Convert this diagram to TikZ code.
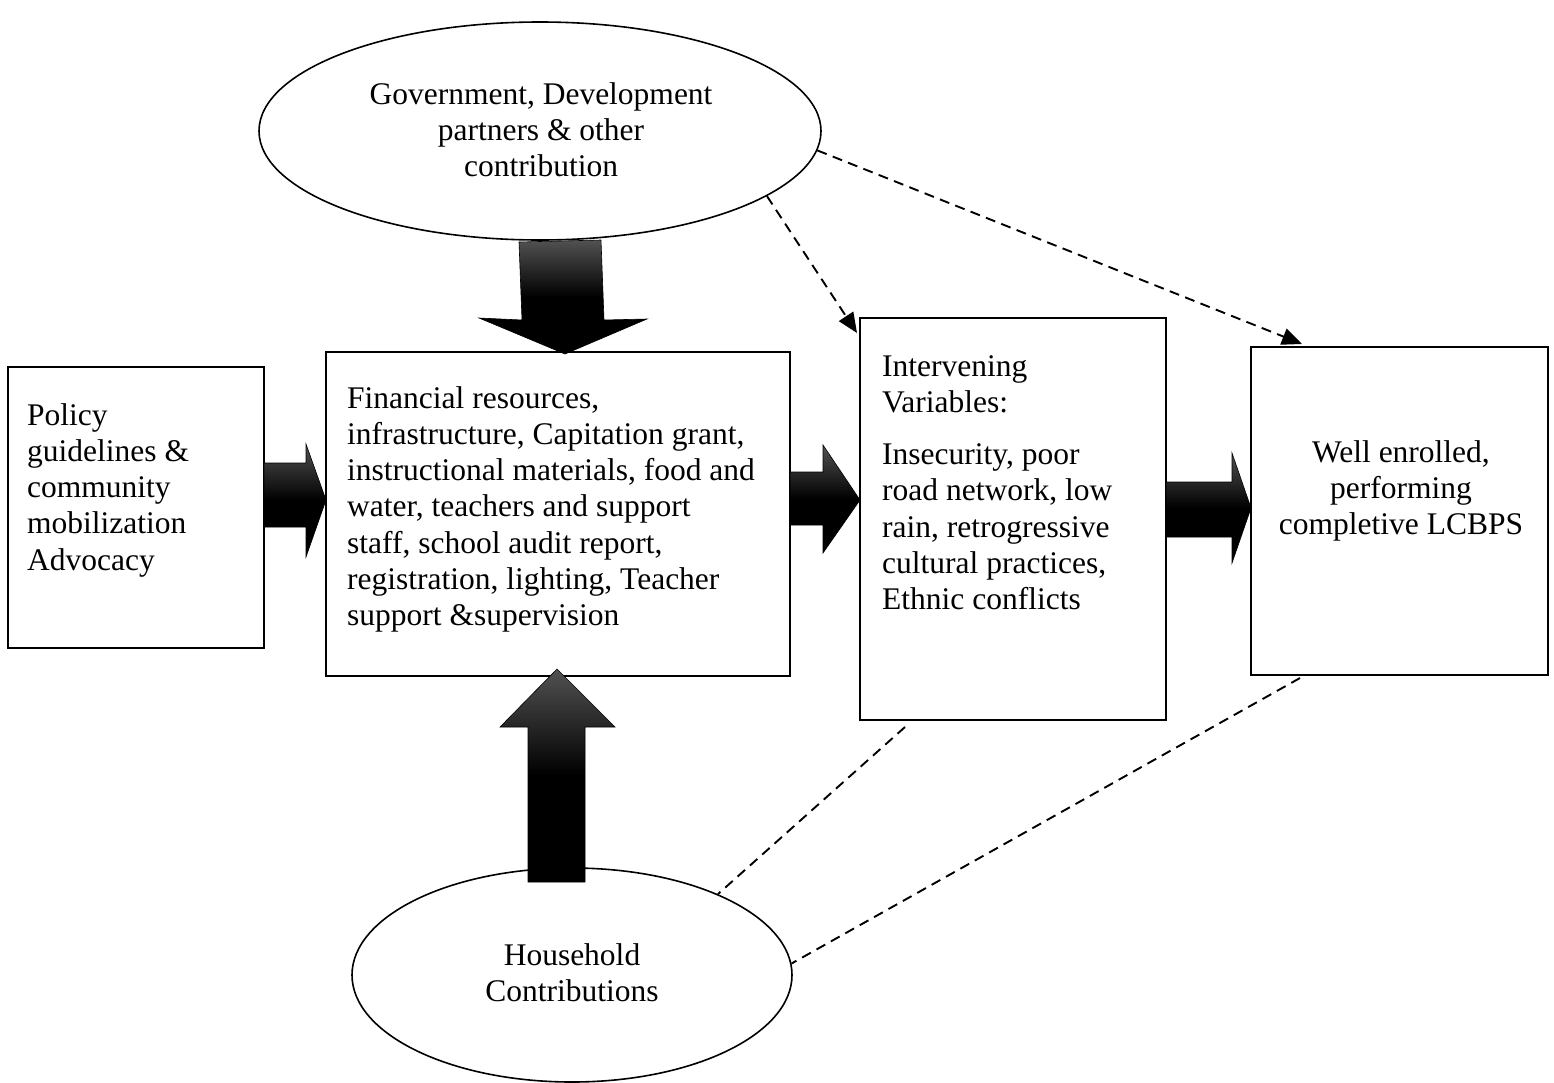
\documentclass[tikz,border=0pt]{standalone}
\usepackage{fontspec}
\setmainfont{Liberation Serif}
\usetikzlibrary{shapes.geometric,arrows.meta}
\tikzset{
  txt/.style={inner sep=0pt, font=\fontsize{31.5}{36.3}\selectfont},
  boxnode/.style={draw, line width=1.6pt, rectangle, inner sep=0pt},
  ovalnode/.style={draw, line width=1.6pt, ellipse, inner sep=0pt},
  dashlink/.style={line width=1.9pt, dash pattern=on 10pt off 6.5pt},
  dasharrow/.style={dashlink, -{Triangle[length=20pt,width=17pt]}},
  blockarrow/.style={draw=black, line width=0.6pt, top color=black!68, bottom color=black, middle color=black},
}
\begin{document}
\begin{tikzpicture}[x=1pt,y=-1pt]
\useasboundingbox (0,0) rectangle (1554,1082);
% shapes
\node[ovalnode, minimum width=562pt, minimum height=218pt] (gov) at (540,131) {};
\node[ovalnode, minimum width=440pt, minimum height=214pt] (house) at (572,975) {};
\node[boxnode, minimum width=256pt, minimum height=281pt] (policy) at (136,507.5) {};
\node[boxnode, minimum width=464pt, minimum height=324pt] (res) at (558,514) {};
\node[boxnode, minimum width=306pt, minimum height=402pt] (interv) at (1013,519) {};
\node[boxnode, minimum width=297pt, minimum height=328pt] (out) at (1399.5,511) {};
% texts
\node[txt, anchor=base] (govt) at (541,104) {\parbox[t]{600pt}{\centering Government, Development\\ partners \& other\\ contribution}};
\node[txt, anchor=base west] (policyt) at (27,425) {\parbox[t]{240pt}{\raggedright Policy\\ guidelines \&\\ community\\ mobilization\\ Advocacy}};
\node[txt, anchor=base west] (rest) at (347,408) {\parbox[t]{450pt}{\raggedright Financial resources,\\ infrastructure, Capitation grant,\\ instructional materials, food and\\ water, teachers and support\\ staff, school audit report,\\ registration, lighting, Teacher\\ support \&supervision}};
\node[txt, anchor=base west] (intervt) at (882,376) {\parbox[t]{290pt}{\raggedright Intervening\\ Variables:\\[16pt] Insecurity, poor\\ road network, low\\ rain, retrogressive\\ cultural practices,\\ Ethnic conflicts}};
\node[txt, anchor=base] (outt) at (1401,462) {\parbox[t]{290pt}{\centering Well enrolled,\\ performing\\ completive LCBPS}};
\node[txt, anchor=base] (houset) at (572,965) {\parbox[t]{300pt}{\centering Household\\ Contributions}};
% block arrows
\path[blockarrow] (519,242) -- (601,240) -- (604,320) -- (647,319) -- (565,354) -- (479,318) -- (522,320) -- cycle;
\path[blockarrow] (557,669) -- (615,727) -- (585,727) -- (585,882) -- (528,882) -- (528,727) -- (500,727) -- cycle;
\path[blockarrow] (264,463) -- (306,463) -- (306,444) -- (326,500) -- (306,557) -- (306,527) -- (264,527) -- cycle;
\path[blockarrow] (790,472) -- (823,472) -- (823,445) -- (860,500) -- (823,553) -- (823,525) -- (790,525) -- cycle;
\path[blockarrow] (1166,482) -- (1232,482) -- (1232,453) -- (1251,508) -- (1232,563) -- (1232,537) -- (1166,537) -- cycle;
% dashed connectors
\coordinate (a1) at (857,333);
\coordinate (a2) at (1302,344);
\coordinate (b1) at (905,727);
\coordinate (b2) at (1300,678);
\draw[dasharrow] (gov.-16) -- (a1);
\draw[dasharrow] (gov.-4) -- (a2);
\draw[dashlink] (b1) -- (house.29);
\draw[dashlink] (b2) -- (house.3);
\end{tikzpicture}
\end{document}
